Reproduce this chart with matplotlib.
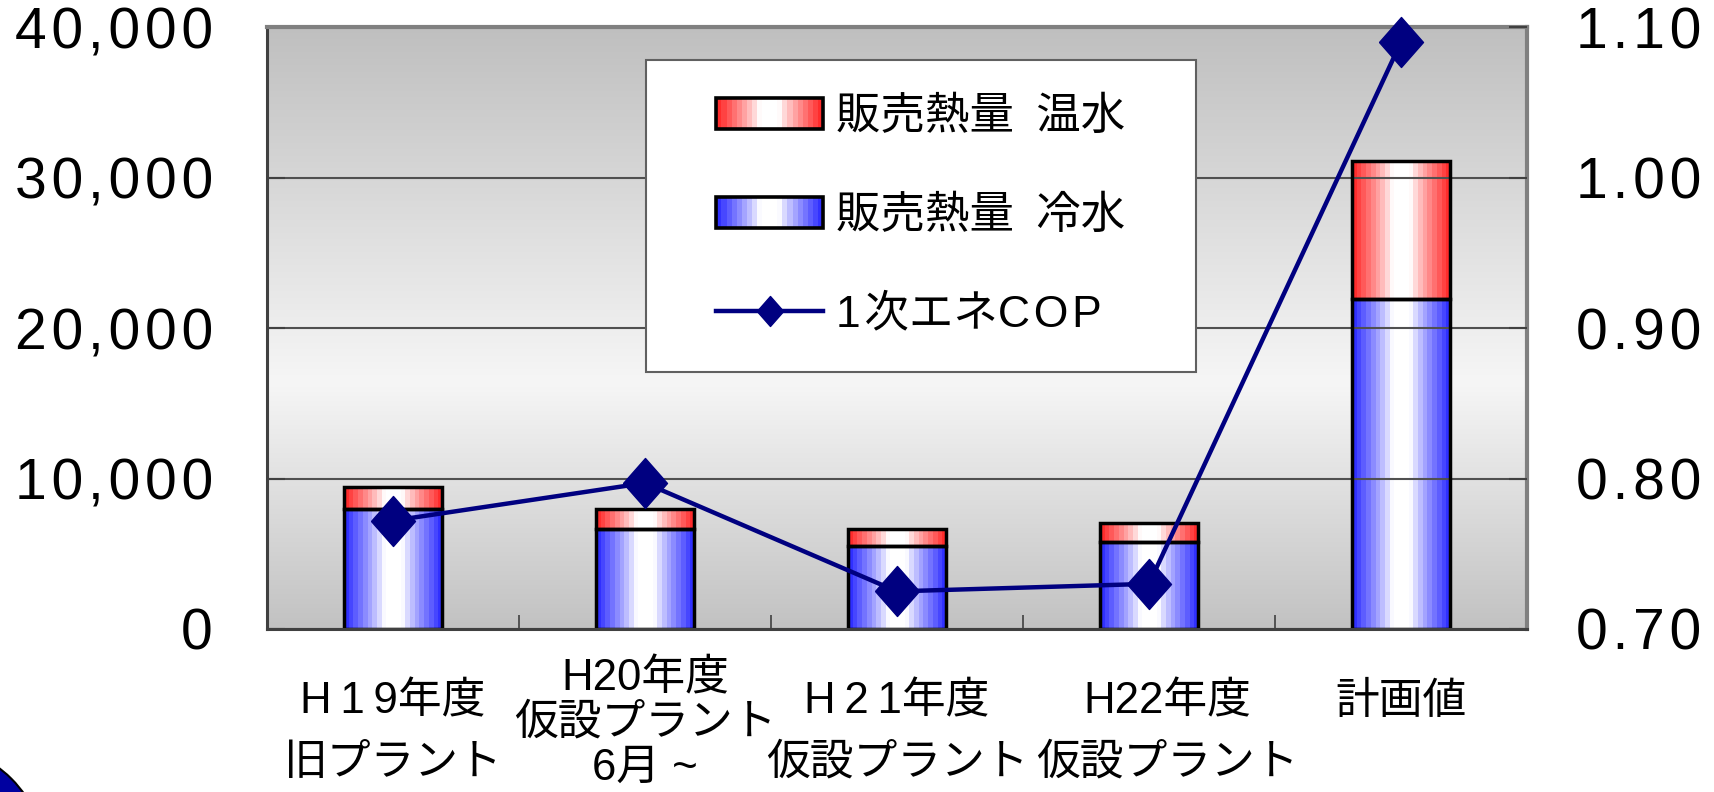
import numpy as np
import matplotlib
matplotlib.use("Agg")
import matplotlib.pyplot as plt
import matplotlib.transforms as mtransforms
from matplotlib.patches import Rectangle, Ellipse
from matplotlib.legend_handler import HandlerBase
from matplotlib.ticker import FuncFormatter, FixedLocator

# ---------------- data ----------------
categories = ["H\u20091\u20099年度\n旧プラント",
              "H20年度\n仮設プラント\n6月 ~",
              "H\u20092\u20091年度\n仮設プラント",
              "H22年度\n仮設プラント",
              "計画値"]
cold_water = [7970, 6670, 5510, 5800, 21950]     # 販売熱量 冷水
hot_water = [1450, 1300, 1160, 1230, 9150]       # 販売熱量 温水
cop = [0.772, 0.797, 0.725, 0.730, 1.090]        # 1次エネCOP
left_ticks = [0, 10000, 20000, 30000, 40000]
right_ticks = [0.70, 0.80, 0.90, 1.00, 1.10]
label_hot = "販売熱量\u2002温水"
label_cold = "販売熱量\u2002冷水"
label_cop = "1\u200a次エネC\u200aO\u200aP"

plt.rcParams['font.family'] = ['Liberation Sans', 'Noto Sans CJK JP', 'DejaVu Sans']

W, H = 1715, 792
fig = plt.figure(figsize=(W / 100, H / 100), dpi=100)
ax = fig.add_axes([267 / W, 1 - 629 / H, 1260 / W, 602 / H])

RED = np.array([1.0, 0.13, 0.13])
BLUE = np.array([0.15, 0.15, 1.0])
WHITE = np.array([1.0, 1.0, 1.0])


def band_colors(base, n=21):
    cols = []
    for i in range(n):
        t = abs(2 * (i + 0.5) / n - 1)
        f = np.clip((t - 0.18) / 0.82, 0, 1) ** 0.85
        cols.append(WHITE * (1 - f) + base * f)
    return np.array(cols)


# background vertical gradient
s = np.linspace(0, 1, 300)
peak = 0.59
g = np.where(s < peak, 0.75 + (0.965 - 0.75) * (s / peak),
             0.965 - (0.965 - 0.76) * ((s - peak) / (1 - peak)))
bg = np.repeat(g[:, None, None], 3, axis=2)
ax.imshow(bg, extent=(0, 1, 0, 1), transform=ax.transAxes, aspect='auto',
          zorder=0, interpolation='bilinear')

x = np.arange(len(categories))
bw = 0.39
bars_c = ax.bar(x, cold_water, width=bw, facecolor='none', edgecolor='black',
                linewidth=2.5, zorder=3)
bars_h = ax.bar(x, hot_water, bottom=cold_water, width=bw, facecolor='none',
                edgecolor='black', linewidth=2.5, zorder=3)


def fill_gradient(rect, base):
    x0, y0 = rect.get_x(), rect.get_y()
    w, h = rect.get_width(), rect.get_height()
    img = band_colors(base)[None, :, :]
    ax.imshow(img, extent=(x0, x0 + w, y0, y0 + h), aspect='auto',
              interpolation='nearest', zorder=2.5)


for r in bars_c:
    fill_gradient(r, BLUE)
for r in bars_h:
    fill_gradient(r, RED)

ax.set_xlim(-0.5, len(categories) - 0.5)
ax.set_ylim(left_ticks[0], left_ticks[-1])
ax.set_yticks(left_ticks)
ax.yaxis.set_major_formatter(FuncFormatter(lambda v, p: "\u200a".join(f"{int(v):,}")))
ax.yaxis.grid(True, color='#505050', linewidth=1.5, zorder=1)
ax.set_axisbelow(False)
for gl in ax.get_ygridlines():
    gl.set_zorder(1)

ax.set_xticks(x)
ax.set_xticklabels(categories, fontsize=31.5, va='top', linespacing=1.62)
ax.xaxis.set_minor_locator(FixedLocator(list(np.arange(0.5, len(categories) - 0.5, 1.0))))
ax.tick_params(axis='x', which='major', length=0, pad=38)
ax.tick_params(axis='x', which='minor', direction='in', length=10, width=1.2, color='#404040')
ax.tick_params(axis='y', direction='in', length=13, width=1.5, color='#404040',
               labelsize=41, pad=39)
ticks = ax.xaxis.get_major_ticks()
ticks[1].set_pad(21)
ticks[1].label1.set_linespacing(1.12)
shift = mtransforms.ScaledTranslation(0.18, 0, fig.dpi_scale_trans)
ticks[3].label1.set_transform(ticks[3].label1.get_transform() + shift)

for side, c, lw in [('top', '#808080', 3), ('right', '#808080', 3),
                    ('left', '#404040', 2.2), ('bottom', '#404040', 2.2)]:
    ax.spines[side].set_color(c)
    ax.spines[side].set_linewidth(lw)
    ax.spines[side].set_zorder(4)

ax2 = ax.twinx()
diamond = [(-0.88, 0), (0, 1), (0.88, 0), (0, -1), (-0.88, 0)]
line, = ax2.plot(x, cop, color='#000080', linewidth=3.2, marker=diamond,
                 markersize=36, clip_on=False, zorder=5)
ax2.set_ylim(right_ticks[0], right_ticks[-1])
ax2.set_yticks(right_ticks)
ax2.yaxis.set_major_formatter(FuncFormatter(lambda v, p: "\u200a".join(f"{v:.2f}")))
ax2.tick_params(axis='y', direction='in', length=13, width=1.5, color='#404040',
                labelsize=41, pad=35)
for sp in ax2.spines.values():
    sp.set_visible(False)

# legend box + legend
box = Rectangle((646 / W, 1 - 372 / H), 550 / W, 312 / H, transform=fig.transFigure,
                facecolor='white', edgecolor='#606060', linewidth=1.5, zorder=4)
fig.add_artist(box)


class GradHandler(HandlerBase):
    def __init__(self, base):
        super().__init__()
        self.base = base

    def create_artists(self, legend, orig_handle, xdescent, ydescent, width,
                       height, fontsize, trans):
        cols = band_colors(self.base)
        n = len(cols)
        arts = []
        for i, c in enumerate(cols):
            arts.append(Rectangle((-xdescent + width * i / n, -ydescent), width / n * 1.02,
                                  height, facecolor=c, edgecolor='none', transform=trans))
        arts.append(Rectangle((-xdescent, -ydescent), width, height, facecolor='none',
                              edgecolor='black', linewidth=2.6, transform=trans))
        return arts


h_hot = Rectangle((0, 0), 1, 1)
h_cold = Rectangle((0, 0), 1, 1)
fig.legend([h_hot, h_cold, line], [label_hot, label_cold, label_cop],
           loc='center', bbox_to_anchor=(921 / W, 1 - 216 / H),
           bbox_transform=fig.transFigure, frameon=False, fontsize=32,
           handlelength=2.4, handleheight=0.7, handletextpad=0.3,
           labelspacing=1.3, markerscale=0.6,
           handler_map={h_hot: GradHandler(RED), h_cold: GradHandler(BLUE)})

# slide decoration circle at bottom-left corner
fig.add_artist(Ellipse((-70 / W, 1 - 860 / H), 230 / W, 230 / H, transform=fig.transFigure,
                       facecolor='#0000A0', edgecolor='black', linewidth=1.5))

fig.savefig("out.png", dpi=100)
